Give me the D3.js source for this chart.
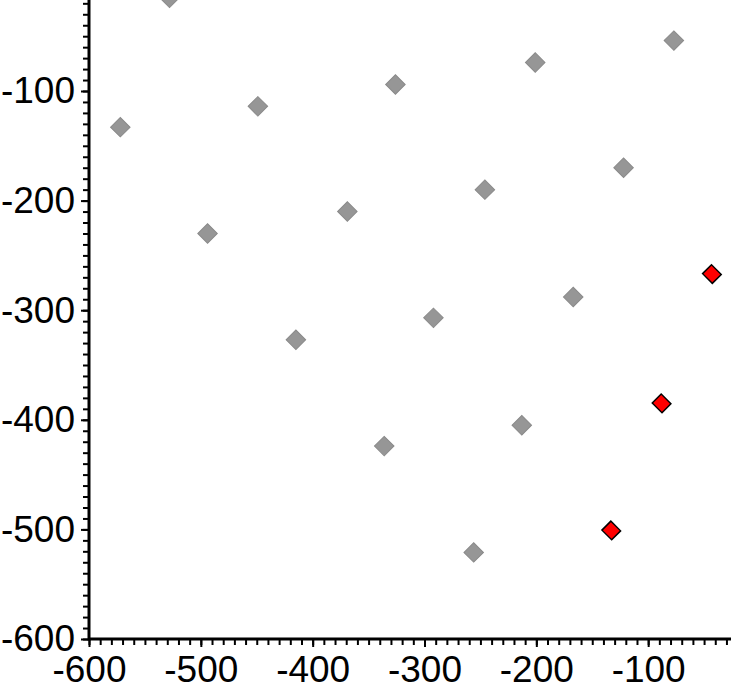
<!DOCTYPE html>
<html>
<head>
<meta charset="utf-8">
<script src="https://cdn.jsdelivr.net/npm/d3@7"></script>
<style>
  body { margin: 0; background: #fff; }
  svg { display: block; }
  .tick text { font-family: "Liberation Sans", Arial, sans-serif; font-size: 37px; fill: #000; }
</style>
</head>
<body>
<script>
// point values
var grayX = [-528, -572, -449, -494, -326, -369, -415, -201, -246, -292, -336, -77, -122, -167, -213, -256];
var grayY = [-15, -133, -114, -230, -94, -210, -327, -74, -190, -307, -424, -54, -170, -288, -405, -521];
var redX = [-43, -88, -133];
var redY = [-267, -385, -501];
var majorTicks = [-600, -500, -400, -300, -200, -100];

var width = 731, height = 687;

// scales: 0 falls just outside the window on both axes
var x = d3.scaleLinear().domain([-600, 0]).range([89, 760]);
var y = d3.scaleLinear().domain([-600, 0]).range([639, -18.6]);

var svg = d3.select(document.body).append("svg")
  .attr("width", width).attr("height", height);

// minor ticks every 10 units
var xMinor = d3.range(-600, -20, 10).filter(function(v) { return x(v) <= width; });
var yMinor = d3.range(-600, -10, 10).filter(function(v) { return y(v) >= 0; });

// plain hyphen instead of d3's unicode minus
var fmt = function(d) { return String(d); };

function styleAxis(g) {
  g.select(".domain").remove();
  g.selectAll(".tick line").attr("stroke", "#000").attr("stroke-width", 2);
}

// x axis
svg.append("g")
  .attr("transform", "translate(0," + y(-600) + ")")
  .call(d3.axisBottom(x).tickValues(xMinor).tickSize(6).tickFormat(""))
  .call(styleAxis);
svg.append("g")
  .attr("transform", "translate(0," + y(-600) + ")")
  .call(d3.axisBottom(x).tickValues(majorTicks).tickSize(8).tickPadding(9).tickFormat(fmt))
  .call(styleAxis);

// y axis
svg.append("g")
  .attr("transform", "translate(" + x(-600) + ",0)")
  .call(d3.axisLeft(y).tickValues(yMinor).tickSize(6).tickFormat(""))
  .call(styleAxis);
svg.append("g")
  .attr("transform", "translate(" + x(-600) + ",0)")
  .call(d3.axisLeft(y).tickValues(majorTicks).tickSize(8).tickPadding(6).tickFormat(fmt))
  .call(styleAxis);

// axis lines
svg.append("line")
  .attr("x1", x(-600)).attr("x2", width)
  .attr("y1", y(-600)).attr("y2", y(-600))
  .attr("stroke", "#000").attr("stroke-width", 3);
svg.append("line")
  .attr("x1", x(-600)).attr("x2", x(-600))
  .attr("y1", 0).attr("y2", y(-600) + 1.5)
  .attr("stroke", "#000").attr("stroke-width", 3);

var diamond = d3.symbol().type(d3.symbolSquare).size(190);

var gray = grayX.map(function(v, i) { return [v, grayY[i]]; });
var red = redX.map(function(v, i) { return [v, redY[i]]; });

svg.append("g").selectAll("path")
  .data(gray)
  .enter().append("path")
  .attr("d", diamond)
  .attr("transform", function(d) { return "translate(" + x(d[0]) + "," + y(d[1]) + ") rotate(45)"; })
  .attr("fill", "#969696")
  .attr("stroke", "#8a8a8a")
  .attr("stroke-width", 1);

svg.append("g").selectAll("path")
  .data(red)
  .enter().append("path")
  .attr("d", diamond)
  .attr("transform", function(d) { return "translate(" + x(d[0]) + "," + y(d[1]) + ") rotate(45) scale(1,0.92)"; })
  .attr("fill", "#ff0000")
  .attr("stroke", "#000")
  .attr("stroke-width", 1.5);
</script>
</body>
</html>
